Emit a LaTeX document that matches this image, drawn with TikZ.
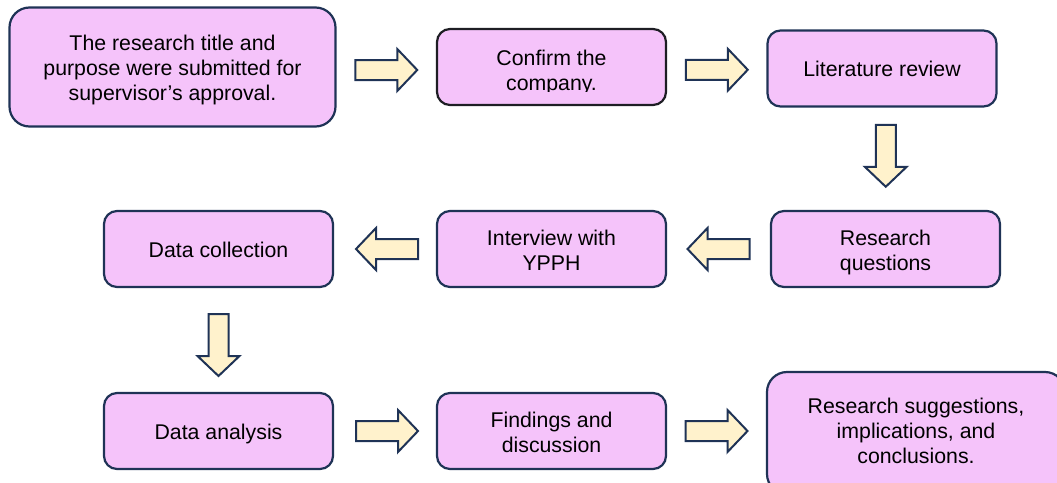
\documentclass[tikz,border=0pt]{standalone}
\usepackage{fontspec}
\setmainfont{Liberation Sans}
\usetikzlibrary{calc}
\definecolor{boxfill}{HTML}{F5C3FA}
\definecolor{boxline}{HTML}{1F3356}
\definecolor{boxdark}{HTML}{1E1E24}
\definecolor{arrfill}{HTML}{FFF2CC}
\definecolor{arrline}{HTML}{1F3356}
\newcommand\mlines[2][-3.5pt]{\raisebox{#1}[\height][\depth]{\begin{tabular}{@{}c@{}}#2\end{tabular}}}
\tikzset{
  stepbox/.style={draw=boxline, fill=boxfill, line width=2.2pt, rounded corners=13pt,
    align=center, font=\fontsize{21.3}{25}\selectfont, inner sep=0pt, text=black,
    minimum width=229pt, minimum height=76pt},
  steptext/.style={align=center, font=\fontsize{21.3}{25}\selectfont, inner sep=0pt, text=black},
  barrow/.pic={\draw[draw=arrline, fill=arrfill, line width=2pt, line join=miter]
    (-31,-10) -- (11,-10) -- (11,-21) -- (31,0) -- (11,21) -- (11,10) -- (-31,10) -- cycle;}
}
\begin{document}
\begin{tikzpicture}[x=1pt,y=-1pt]
\useasboundingbox (0,0) rectangle (1057,482);
\clip (0,0) rectangle (1057,482);
% row 1
\node[stepbox, rounded corners=20pt, minimum width=326pt, minimum height=119pt] (b1) at (172.5,67)
  {\mlines{The research title and\\purpose were submitted for\\supervisor’s approval.}};
\node[stepbox, draw=boxdark] (b2) at (551.5,67) {};
\begin{scope}
  \clip (437,29) rectangle (666,91.5);
  \node[steptext] (b2t) at ($(b2.center)+(0,2.5)$) {\mlines{Confirm the\\company.}};
\end{scope}
\node[stepbox] (b3) at (882,68.5) {\mlines[-3pt]{Literature review}};
% row 2
\node[stepbox] (b4) at (885.5,249) {\mlines{Research\\questions}};
\node[stepbox] (b5) at (551.5,249) {\mlines{Interview with\\YPPH}};
\node[stepbox] (b6) at (218.5,249) {\mlines[-3pt]{Data collection}};
% row 3
\node[stepbox] (b7) at (218.5,431) {\mlines[-3pt]{Data analysis}};
\node[stepbox] (b8) at (551.5,431) {\mlines{Findings and\\discussion}};
\node[stepbox, rounded corners=20pt, minimum width=298pt, minimum height=122pt] (b9) at (916,433)
  {\mlines[0pt]{Research suggestions,\\implications, and\\conclusions.}};
% block arrows
\path ($(b1.east)!0.5!(b2.west)+(0,3)$) pic {barrow};
\path ($(b2.east)!0.5!(b3.west)+(0,2)$) pic {barrow};
\path ($(b3.south)!0.5!(b4.north)+(2,-3)$) pic[rotate=-90] {barrow};
\path ($(b4.west)!0.5!(b5.east)$) pic[rotate=180] {barrow};
\path ($(b5.west)!0.5!(b6.east)+(2,0)$) pic[rotate=180] {barrow};
\path ($(b6.south)!0.5!(b7.north)+(0,5)$) pic[rotate=-90] {barrow};
\path ($(b7.east)!0.5!(b8.west)+(2,0)$) pic {barrow};
\path ($(b8.east)!0.5!(b9.west)+(0,-1)$) pic {barrow};
\end{tikzpicture}
\end{document}
